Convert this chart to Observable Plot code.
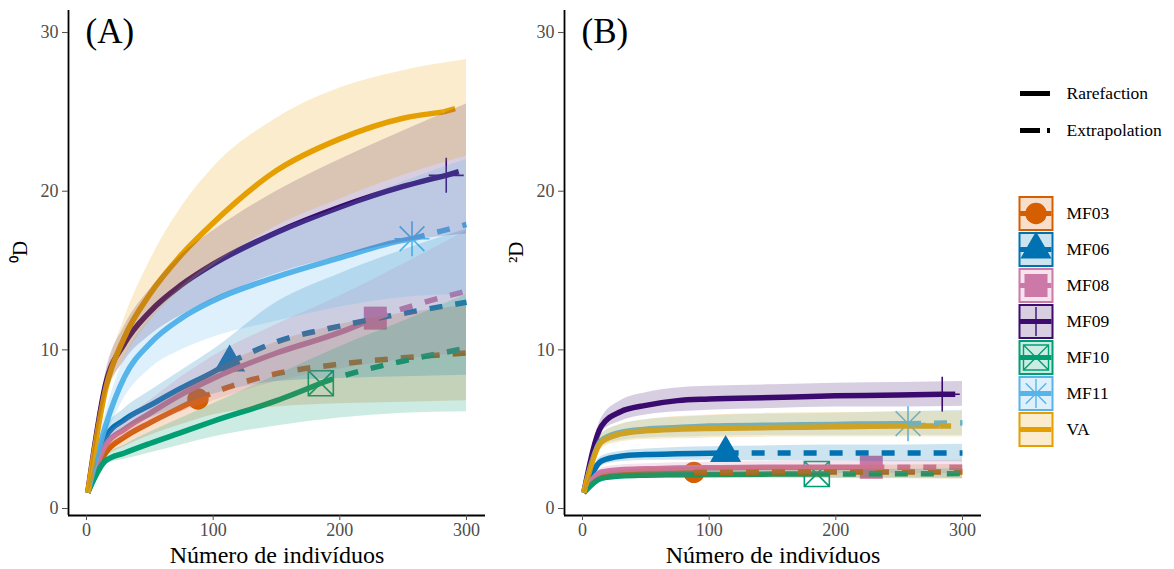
<!DOCTYPE html>
<html><head><meta charset="utf-8">
<script src="https://cdn.jsdelivr.net/npm/d3@7"></script>
<script src="https://cdn.jsdelivr.net/npm/@observablehq/plot@0.6"></script>
<style>
body{margin:0;background:#fff;}
#wrap{position:relative;width:1174px;height:569px;overflow:hidden;font-family:"Liberation Serif",serif;background:#fff;}
#wrap > div{position:absolute;}
</style></head><body>
<div id="wrap"><div id="pa" style="left:0;top:0"></div><div id="pb" style="left:496px;top:0"></div><div id="lt" style="left:1005px;top:70px"></div><div id="ls" style="left:1005px;top:190px"></div></div>
<script>
// ---------- data ----------
const sites  = ["MF03","MF06","MF08","MF09","MF10","MF11","VA"];
const colors = ["#D55E00","#0072B2","#CC79A7","#3B0B6E","#009E73","#56B4E9","#E69F00"];
const knots  = [1, 15, 30, 50, 75, 100, 150, 200, 250, 300];
const obsN   = [88, 113, 228, 284, 185, 257, 282];
const endN   = [300, 300, 300, 297, 300, 300, 291];
const xTicks = [0, 100, 200, 300];
const yTicks = [0, 10, 20, 30];

// q = 0 (richness)
const obsQ0 = [6.9, 9.2, 12.0, 21.0, 7.9, 17.0, 25.0];
const q0Est = [
  [1, 3.5, 4.5, 5.4, 6.4, 7.3, 8.5, 9.1, 9.5, 9.8],
  [1, 4.5, 5.6, 6.5, 7.6, 8.6, 10.5, 11.5, 12.3, 13.0],
  [1, 4.0, 5.0, 6.0, 7.2, 8.2, 9.8, 11.1, 12.6, 13.7],
  [1, 7.8, 10.4, 12.4, 14.1, 15.4, 17.4, 19.0, 20.3, 21.3],
  [1, 3.0, 3.5, 4.1, 4.8, 5.5, 6.8, 8.3, 9.3, 10.1],
  [1, 5.2, 8.3, 10.4, 12.0, 13.1, 14.6, 15.8, 16.9, 17.9],
  [1, 7.5, 10.8, 13.5, 16.0, 18.0, 21.3, 23.3, 24.6, 25.2]
];
const q0Lo = [
  [1, 3.2, 3.9, 4.6, 5.3, 5.9, 6.4, 6.6, 6.7, 6.8],
  [1, 4.0, 5.0, 5.7, 6.5, 7.2, 8.0, 8.2, 8.3, 8.4],
  [1, 3.6, 4.4, 5.2, 6.1, 6.8, 8.0, 8.8, 9.4, 9.8],
  [1, 7.0, 9.3, 10.9, 12.2, 13.2, 14.8, 15.9, 16.8, 17.3],
  [1, 2.8, 3.1, 3.5, 4.0, 4.5, 5.2, 5.7, 6.0, 6.1],
  [1, 4.4, 7.0, 8.8, 10.0, 10.8, 11.8, 12.7, 13.3, 13.5],
  [1, 6.8, 9.5, 11.8, 13.8, 15.3, 17.8, 19.5, 21.0, 22.2]
];
const q0Hi = [
  [1, 3.8, 5.1, 6.2, 7.5, 8.7, 10.5, 11.6, 12.3, 12.8],
  [1, 5.0, 6.3, 7.4, 8.7, 10.0, 13.0, 14.8, 16.3, 17.6],
  [1, 4.4, 5.6, 6.8, 8.3, 9.6, 11.6, 13.4, 15.4, 17.5],
  [1, 8.5, 11.5, 13.8, 16.0, 17.5, 20.0, 22.0, 23.8, 25.5],
  [1, 3.3, 4.0, 4.8, 5.7, 6.6, 8.4, 10.2, 11.8, 13.5],
  [1, 6.0, 9.5, 12.0, 14.0, 15.5, 17.5, 19.0, 20.6, 22.0],
  [1, 8.2, 12.0, 15.6, 19.0, 21.5, 24.6, 26.5, 27.6, 28.3]
];

// q = 2 (Simpson)
const obsQ2 = [2.28, 3.5, 2.6, 7.2, 2.18, 5.35, 5.2];
const q2Est = [
  [1, 2.0, 2.15, 2.22, 2.26, 2.28, 2.3, 2.3, 2.3, 2.3],
  [1, 3.0, 3.3, 3.4, 3.45, 3.48, 3.5, 3.5, 3.5, 3.5],
  [1, 2.3, 2.45, 2.5, 2.55, 2.57, 2.6, 2.6, 2.6, 2.6],
  [1, 5.2, 6.1, 6.5, 6.8, 6.9, 7.0, 7.1, 7.15, 7.2],
  [1, 1.9, 2.05, 2.1, 2.13, 2.15, 2.17, 2.18, 2.19, 2.2],
  [1, 4.3, 4.8, 5.0, 5.1, 5.2, 5.25, 5.3, 5.35, 5.4],
  [1, 4.2, 4.7, 4.9, 5.0, 5.05, 5.1, 5.15, 5.2, 5.2]
];
const q2Lo = [
  [1, 1.8, 1.9, 1.92, 1.93, 1.93, 1.92, 1.9, 1.88, 1.85],
  [1, 2.7, 2.95, 3.05, 3.05, 3.05, 3.0, 3.0, 2.95, 2.95],
  [1, 2.05, 2.15, 2.2, 2.22, 2.22, 2.22, 2.2, 2.2, 2.18],
  [1, 4.8, 5.5, 5.9, 6.1, 6.2, 6.3, 6.4, 6.4, 6.45],
  [1, 1.75, 1.87, 1.9, 1.92, 1.93, 1.93, 1.92, 1.92, 1.9],
  [1, 3.9, 4.3, 4.45, 4.5, 4.55, 4.6, 4.6, 4.6, 4.6],
  [1, 3.8, 4.2, 4.35, 4.4, 4.45, 4.5, 4.5, 4.5, 4.5]
];
const q2Hi = [
  [1, 2.2, 2.4, 2.5, 2.58, 2.62, 2.68, 2.72, 2.75, 2.78],
  [1, 3.3, 3.6, 3.75, 3.85, 3.9, 3.95, 4.0, 4.0, 4.05],
  [1, 2.55, 2.75, 2.82, 2.88, 2.92, 2.97, 3.0, 3.02, 3.05],
  [1, 5.7, 6.8, 7.3, 7.6, 7.7, 7.8, 7.9, 7.95, 8.0],
  [1, 2.05, 2.25, 2.32, 2.36, 2.4, 2.43, 2.46, 2.48, 2.5],
  [1, 4.7, 5.3, 5.6, 5.75, 5.85, 5.95, 6.0, 6.1, 6.2],
  [1, 4.7, 5.3, 5.6, 5.8, 5.9, 6.0, 6.05, 6.1, 6.15]
];

const lineTypes = ["Rarefaction", "Extrapolation"];

// ---------- symbols (ggplot-like shapes) ----------
const rad = s => Math.sqrt(s / Math.PI);
const symTri = {draw(c, s){ const r = rad(s); c.moveTo(0, -r); c.lineTo(0.866*r, 0.5*r); c.lineTo(-0.866*r, 0.5*r); c.closePath(); }};
const symSq  = {draw(c, s){ const r = rad(s); c.rect(-r, -r, 2*r, 2*r); }};
const symPlus = {draw(c, s){ const r = rad(s); c.moveTo(0, -r); c.lineTo(0, r); c.moveTo(-r, 0); c.lineTo(r, 0); }};
const symBoxX = {draw(c, s){ const r = rad(s); c.rect(-r, -r, 2*r, 2*r); c.moveTo(-r, -r); c.lineTo(r, r); c.moveTo(r, -r); c.lineTo(-r, r); }};
const symAst = {draw(c, s){ const r = rad(s), k = r*0.7071; c.moveTo(0, -r); c.lineTo(0, r); c.moveTo(-r, 0); c.lineTo(r, 0); c.moveTo(-k, -k); c.lineTo(k, k); c.moveTo(k, -k); c.lineTo(-k, k); }};
const markers = [
  {sym: d3.symbolCircle, r: 10.7, filled: true},
  {sym: symTri, r: 18, filled: true},
  {sym: symSq, r: 11.5, filled: true},
  {sym: symPlus, r: 17.5, filled: false},
  {sym: symBoxX, r: 12.5, filled: false},
  {sym: symAst, r: 17.5, filled: false},
  null
];

const FONT = "'Liberation Serif', 'Times New Roman', serif";

function panel(est, lo, hi, obs, ylab, tag) {
  const band = [], solid = [], dashed = [], pts = [];
  sites.forEach((s, i) => {
    knots.forEach((k, j) => band.push({site: s, x: k, lo: lo[i][j], hi: hi[i][j]}));
    knots.forEach((k, j) => { if (k < obsN[i]) solid.push({site: s, x: k, y: est[i][j]}); });
    solid.push({site: s, x: obsN[i], y: obs[i]});
    dashed.push({site: s, x: obsN[i], y: obs[i]});
    knots.forEach((k, j) => { if (k > obsN[i]) dashed.push({site: s, x: Math.min(k, endN[i]), y: est[i][j]}); });
    pts.push({site: s, x: obsN[i], y: obs[i]});
  });
  const marks = [];
  sites.forEach((s, i) => {
    const m = markers[i]; if (!m) return;
    marks.push(Plot.dot(pts.filter(d => d.site === s), {
      x: "x", y: "y", symbol: m.sym, r: m.r,
      fill: m.filled ? colors[i] : "none", stroke: m.filled ? "none" : colors[i], strokeWidth: 1.6
    }));
  });
  marks.push(Plot.line(solid, {x: "x", y: "y", z: "site", stroke: "site", strokeWidth: 5.5, curve: "monotone-x", strokeLinecap: "butt"}));
  marks.push(Plot.line(dashed, {x: "x", y: "y", z: "site", stroke: "site", strokeWidth: 5.5, curve: "monotone-x", strokeLinecap: "butt", strokeDasharray: "13,13"}));
  marks.push(Plot.areaY(band, {x: "x", y1: "lo", y2: "hi", z: "site", fill: "site", fillOpacity: 0.2, curve: "monotone-x"}));
  marks.push(Plot.ruleX([-14.2], {stroke: "#000", strokeWidth: 1.8}));
  marks.push(Plot.ruleY([-0.44], {stroke: "#000", strokeWidth: 1.8}));
  marks.push(Plot.axisX({ticks: xTicks, tickSize: 5, tickPadding: 3, fontSize: 18, color: "#4D4D4D", label: null, tickFormat: d => String(d)}));
  marks.push(Plot.axisY({ticks: yTicks, tickSize: 6, tickPadding: 4, fontSize: 18, color: "#4D4D4D", label: null, tickFormat: d => String(d)}));
  marks.push(Plot.text([ylab], {frameAnchor: "left", dx: -48, rotate: -90, fontSize: 21, fill: "#000", text: d => d}));
  marks.push(Plot.text(["Número de indivíduos"], {frameAnchor: "bottom", lineAnchor: "middle", dy: 40, fontSize: 24, fill: "#000", text: d => d}));
  marks.push(Plot.text([tag], {frameAnchor: "top-left", lineAnchor: "top", dx: 17, dy: 8, fontSize: 35, fill: "#000", text: d => d}));
  return Plot.plot({
    width: 490, height: 569,
    marginLeft: 68, marginRight: 5, marginTop: 10, marginBottom: 54,
    x: {domain: [-14.2, 315], axis: null},
    y: {domain: [-0.44, 31.39], axis: null},
    color: {domain: sites, range: colors},
    style: {fontFamily: FONT, background: "transparent", overflow: "visible"},
    marks
  });
}

document.getElementById("pa").append(panel(q0Est, q0Lo, q0Hi, obsQ0, "⁰D", "(A)"));
document.getElementById("pb").append(panel(q2Est, q2Lo, q2Hi, obsQ2, "²D", "(B)"));

// ---------- line-type legend ----------
const ltRows = lineTypes.map(t => ({t}));
document.getElementById("lt").append(Plot.plot({
  width: 169, height: 80, margin: 0,
  x: {domain: [0, 169], range: [0, 169], axis: null},
  y: {type: "point", domain: lineTypes, range: [23, 60], padding: 0, axis: null},
  style: {fontFamily: FONT, background: "transparent", overflow: "visible"},
  marks: [
    Plot.ruleY(ltRows.filter(d => d.t === "Rarefaction"), {y: "t", x1: 15, x2: 45, stroke: "#000", strokeWidth: 5}),
    Plot.ruleY(ltRows.filter(d => d.t === "Extrapolation"), {y: "t", x1: 15, x2: 45, stroke: "#000", strokeWidth: 5, strokeDasharray: "20,7"}),
    Plot.text(ltRows, {y: "t", x: 61, text: "t", textAnchor: "start", fontSize: 17.5, fill: "#000"})
  ]
}));

// ---------- site legend ----------
const sRows = sites.map((s, i) => ({site: s, i}));
const legMarks = [
  Plot.dot(sRows, {x: 30.5, y: "site", symbol: symSq, r: 16.5, fill: "site", fillOpacity: 0.2, stroke: "none"})
];
sRows.forEach(d => {
  const m = markers[d.i]; if (!m) return;
  legMarks.push(Plot.dot([d], {x: 30.5, y: "site", symbol: m.sym, r: m.filled ? m.r : Math.min(m.r, 14.5), fill: m.filled ? colors[d.i] : "none", stroke: m.filled ? "none" : colors[d.i], strokeWidth: 1.4}));
});
legMarks.push(Plot.ruleY(sRows, {y: "site", x1: 14.5, x2: 46.5, stroke: "site", strokeWidth: 5}));
legMarks.push(Plot.dot(sRows, {x: 30.5, y: "site", symbol: symSq, r: 16.5, fill: "none", stroke: "site", strokeWidth: 2}));
legMarks.push(Plot.text(sRows, {x: 61, y: "site", text: "site", textAnchor: "start", fontSize: 17.5, fill: "#000"}));
document.getElementById("ls").append(Plot.plot({
  width: 169, height: 270, margin: 0,
  x: {domain: [0, 169], range: [0, 169], axis: null},
  y: {type: "point", domain: sites, range: [22, 22 + 6 * 36.3], padding: 0, axis: null},
  color: {domain: sites, range: colors},
  style: {fontFamily: FONT, background: "transparent", overflow: "visible"},
  marks: legMarks
}));
</script>
</body></html>
